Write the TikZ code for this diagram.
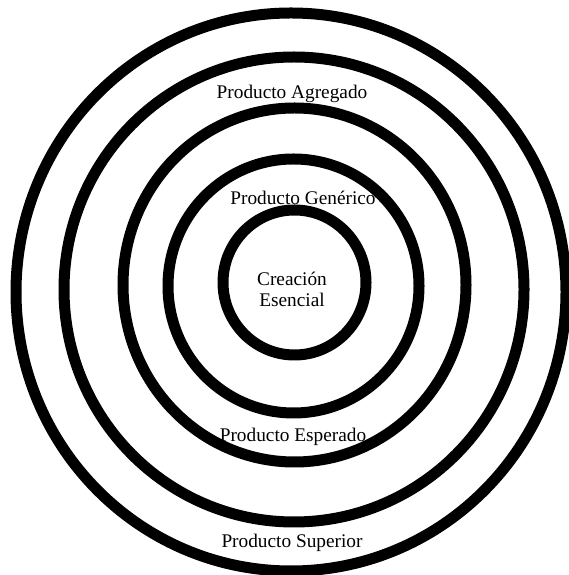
\documentclass[tikz,border=0pt]{standalone}
\usepackage{fontspec}
\setmainfont{Liberation Serif}
\begin{document}
\begin{tikzpicture}[x=1pt,y=1pt,
  ring/.style={line width=11pt,draw=black},
  lbl/.style={font=\fontsize{19.3}{22}\selectfont,inner sep=0pt,text=black}]
\useasboundingbox (0,0) rectangle (568,575);
\fill[white] (0,0) rectangle (568,575);
% rings (image y flipped: y = 575 - img y)
\draw[ring] (291,283) ellipse [x radius=275, y radius=279];
\draw[ring] (294,285.5) ellipse [x radius=230, y radius=232.5];
\draw[ring] (294.5,290) ellipse [x radius=171.5, y radius=177];
\draw[ring] (293.5,289) ellipse [x radius=125.5, y radius=127];
\draw[ring] (294.5,292.5) ellipse [x radius=71.5, y radius=72.5];
% labels
\node[lbl] (agregado) at (292,481) {Producto Agregado};
\node[lbl] (generico) at (303,377) {Producto Genérico};
\node[lbl] (creacion) at (292,296) {Creación};
\node[lbl] (esencial) at (292,275) {Esencial};
\node[lbl] (esperado) at (293,138) {Producto Esperado};
\node[lbl] (superior) at (292,32) {Producto Superior};
\end{tikzpicture}
\end{document}
